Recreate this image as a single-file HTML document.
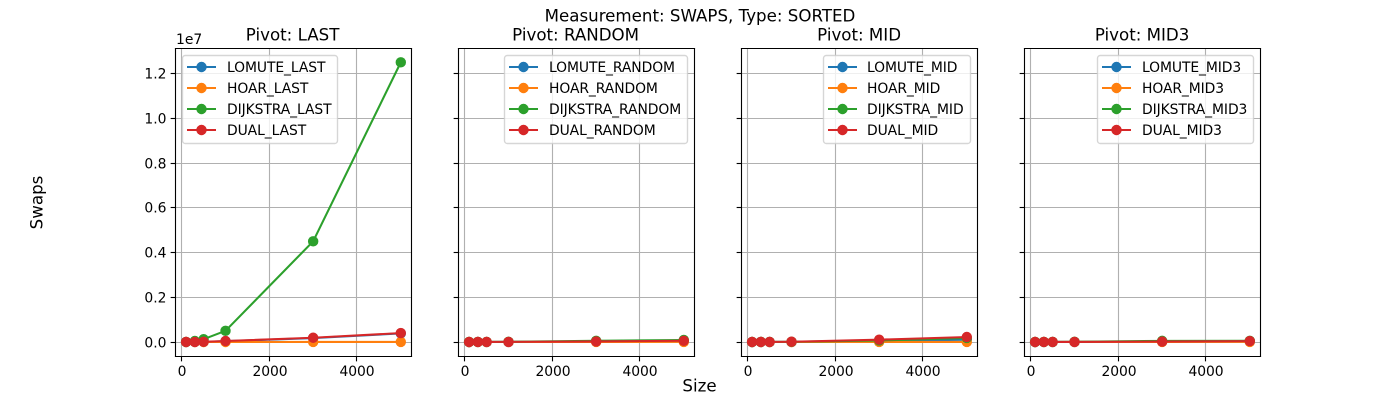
<!DOCTYPE html>
<html>
<head>
<meta charset="utf-8">
<style>
html,body{margin:0;padding:0;background:#fff;}
svg{display:block;}
text{font-family:"DejaVu Sans","Liberation Sans",sans-serif;fill:#000;}
</style>
</head>
<body>
<svg id="chart" xmlns="http://www.w3.org/2000/svg" width="1400" height="400" viewBox="0 0 1400 400">
<rect width="1400" height="400" fill="#fff"/>
<text x="700" y="21.5" font-size="16.67" text-anchor="middle">Measurement: SWAPS, Type: SORTED</text>
<text x="699.5" y="391.5" font-size="16.67" text-anchor="middle">Size</text>
<text x="0" y="0" font-size="16.67" text-anchor="middle" transform="translate(42.5 202.5) rotate(-90)">Swaps</text>
<text x="176" y="44" font-size="13.89">1e7</text>
</svg>
<script>
var sizes = [100, 300, 500, 1000, 3000, 5000];
var xTickValues = [0, 2000, 4000];
var xTickLabels = ['0', '2000', '4000'];
var yTickValues = [0, 2000000, 4000000, 6000000, 8000000, 10000000, 12000000];
var yTickLabels = ['0.0', '0.2', '0.4', '0.6', '0.8', '1.0', '1.2'];
var seriesColors = ['#1f77b4', '#ff7f0e', '#2ca02c', '#d62728'];

var panelTitles = ['Pivot: LAST', 'Pivot: RANDOM', 'Pivot: MID', 'Pivot: MID3'];
var lastLabels = ['LOMUTE_LAST', 'HOAR_LAST', 'DIJKSTRA_LAST', 'DUAL_LAST'];
var randomLabels = ['LOMUTE_RANDOM', 'HOAR_RANDOM', 'DIJKSTRA_RANDOM', 'DUAL_RANDOM'];
var midLabels = ['LOMUTE_MID', 'HOAR_MID', 'DIJKSTRA_MID', 'DUAL_MID'];
var mid3Labels = ['LOMUTE_MID3', 'HOAR_MID3', 'DIJKSTRA_MID3', 'DUAL_MID3'];

var lastLomute = [500, 2500, 6000, 35000, 175000, 385000];
var lastHoar = [50, 150, 250, 500, 1500, 2500];
var lastDijkstra = [5000, 45000, 125000, 500000, 4500000, 12500000];
var lastDual = [1000, 4000, 10000, 45000, 190000, 400000];

var randomLomute = [300, 1000, 1800, 4000, 20000, 45000];
var randomHoar = [200, 600, 1000, 2000, 3000, 5000];
var randomDijkstra = [500, 1600, 2800, 8000, 55000, 90000];
var randomDual = [300, 1000, 1800, 5000, 25000, 55000];

var midLomute = [300, 1000, 1800, 5000, 50000, 100000];
var midHoar = [50, 150, 250, 500, 1500, 2500];
var midDijkstra = [400, 1200, 2500, 8000, 70000, 180000];
var midDual = [500, 1500, 3000, 12000, 105000, 223000];

var mid3Lomute = [300, 1000, 1800, 4000, 15000, 25000];
var mid3Hoar = [200, 600, 1000, 2000, 3000, 5000];
var mid3Dijkstra = [500, 1600, 2800, 7000, 50000, 55000];
var mid3Dual = [300, 1000, 1800, 4000, 20000, 40000];

var panelSeries = [
  [lastLomute, lastHoar, lastDijkstra, lastDual],
  [randomLomute, randomHoar, randomDijkstra, randomDual],
  [midLomute, midHoar, midDijkstra, midDual],
  [mid3Lomute, mid3Hoar, mid3Dijkstra, mid3Dual]
];
var panelLabels = [lastLabels, randomLabels, midLabels, mid3Labels];
var panelSlugs = ['last', 'random', 'mid', 'mid3'];

var NS = 'http://www.w3.org/2000/svg';
var svg = document.getElementById('chart');
var axTop = 48.5, axBottom = 356.5, axWidth = 236, axStep = 283;
var legendLefts = [182, 504, 823, 1097];
var legendWidths = [155, 183, 147, 156];
var legendTextOffsets = [45, 45, 44, 45];
var titleNudges = [-0.9, -0.9, -0.4, -0.4];

function make(parent, tag, attrs) {
  var el = document.createElementNS(NS, tag);
  for (var k in attrs) el.setAttribute(k, attrs[k]);
  parent.appendChild(el);
  return el;
}
function yScale(v) { return 342 - v / 10000000 * 223.75; }
function snap(p) { return Math.floor(p) + 0.5; }

panelTitles.forEach(function (title, p) {
  var left = 175.5 + p * axStep;
  var right = left + axWidth;
  var xScale = function (v) { return left + 6.2 + v / 5000 * 219.1; };
  var slug = panelSlugs[p];

  var g = make(svg, 'g', {});
  
  

  var plotBg = make(g, 'rect', {x: left, y: axTop, width: axWidth, height: axBottom - axTop, fill: '#fff'});
  
  

  xTickValues.forEach(function (v, i) {
    var x = snap(xScale(v));
    var grid = make(g, 'line', {x1: x, x2: x, y1: axTop, y2: axBottom, stroke: '#b0b0b0', 'stroke-width': 1.11});
    
    
    var tick = make(g, 'line', {x1: x, x2: x, y1: axBottom, y2: axBottom + 4.86, stroke: '#000', 'stroke-width': 1.11});
    
    
    var label = make(g, 'text', {x: x + 0.5, y: axBottom + 19.5, 'font-size': 13.89, 'text-anchor': 'middle', 'letter-spacing': '-0.05px'});
    
    
    label.textContent = xTickLabels[i];
  });

  yTickValues.forEach(function (v, i) {
    var y = snap(yScale(v));
    var grid = make(g, 'line', {x1: left, x2: right, y1: y, y2: y, stroke: '#b0b0b0', 'stroke-width': 1.11});
    
    
    var tick = make(g, 'line', {x1: left - 4.86, x2: left, y1: y, y2: y, stroke: '#000', 'stroke-width': 1.11});
    
    
    if (p === 0) {
      var label = make(g, 'text', {x: left - 9, y: y + 5, 'font-size': 13.89, 'text-anchor': 'end'});
      
      
      label.textContent = yTickLabels[i];
    }
  });

  panelSeries[p].forEach(function (values, s) {
    var sg = make(g, 'g', {});
    
    
    var pts = values.map(function (v, i) { return xScale(sizes[i]).toFixed(2) + ',' + yScale(v).toFixed(2); }).join(' ');
    var line = make(sg, 'polyline', {points: pts, fill: 'none', stroke: seriesColors[s], 'stroke-width': 2.08, 'stroke-linejoin': 'round', 'stroke-linecap': 'square'});
    
    
    values.forEach(function (v, i) {
      var dot = make(sg, 'circle', {cx: xScale(sizes[i]), cy: yScale(v), r: 5.2, fill: seriesColors[s]});
      
      
    });
  });

  [['left', left, axTop, left, axBottom], ['right', right, axTop, right, axBottom], ['top', left, axTop, right, axTop], ['bottom', left, axBottom, right, axBottom]].forEach(function (sp) {
    var spine = make(g, 'line', {x1: sp[1], y1: sp[2], x2: sp[3], y2: sp[4], stroke: '#000', 'stroke-width': 1.11, 'stroke-linecap': 'square'});
    
    
  });

  var titleEl = make(g, 'text', {x: left + axWidth / 2 + titleNudges[p], y: 40.5, 'font-size': 16.67, 'text-anchor': 'middle'});
  
  
  titleEl.textContent = title;

  var lg = make(g, 'g', {});
  
  
  var lx = legendLefts[p];
  var box = make(lg, 'rect', {x: lx + 0.5, y: 55.5, width: legendWidths[p], height: 88, rx: 2.8, ry: 2.8, fill: '#fff', 'fill-opacity': 0.8, stroke: '#cccccc', 'stroke-opacity': 0.8, 'stroke-width': 1.39});
  
  
  panelLabels[p].forEach(function (name, s) {
    var y = 67 + s * 21;
    var entry = make(lg, 'g', {});
    
    
    var handle = make(entry, 'line', {x1: lx + 5, x2: lx + 34, y1: y, y2: y, stroke: seriesColors[s], 'stroke-width': 2.08});
    
    
    var mark = make(entry, 'circle', {cx: lx + 19.5, cy: y, r: 5.2, fill: seriesColors[s]});
    
    
    var txt = make(entry, 'text', {x: lx + legendTextOffsets[p], y: y + 5, 'font-size': 13.89, 'letter-spacing': '-0.08px'});
    
    
    txt.textContent = name;
  });
});
</script>
</body>
</html>
